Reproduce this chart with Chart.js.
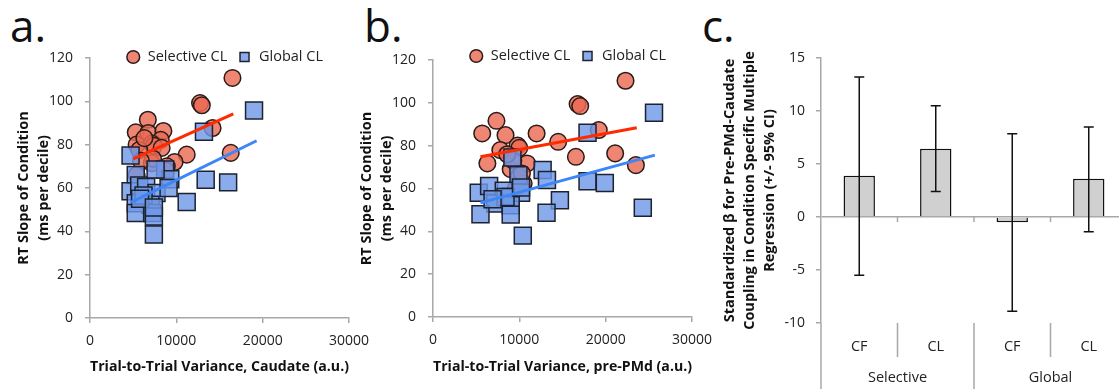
<!DOCTYPE html>
<html>
<head>
<meta charset="utf-8">
<script src="https://cdn.jsdelivr.net/npm/chart.js@4.4.1/dist/chart.umd.min.js"></script>
<style>
  body { margin: 0; width: 1119px; height: 389px; overflow: hidden; background: #fff; position: relative; font-family: 'Open Sans', sans-serif; }
  canvas { position: absolute; top: 0; }
  .letter { position: absolute; top: 3px; font-size: 44px; line-height: 44px; color: #111; }
</style>
</head>
<body>
<div class="letter" style="left:10px">a.</div>
<div class="letter" style="left:364px">b.</div>
<div class="letter" style="left:702px">c.</div>
<canvas id="chartA" width="380" height="389" style="left:0"></canvas>
<canvas id="chartB" width="380" height="389" style="left:343px"></canvas>
<canvas id="chartC" width="440" height="389" style="left:700px"></canvas>
<script>
// panel a: caudate variance vs RT slope
var selA_x = [16500, 12750, 12950, 6700, 5300, 6750, 8500, 14200, 8200, 5400, 7150, 7400, 5700, 8300, 6300, 11200, 16300, 9800, 7150, 7300, 8900, 5900, 5400, 8800];
var selA_y = [110.8, 99.2, 98.2, 91.5, 85.7, 85.4, 86.3, 87.7, 82.2, 80, 80.5, 79.5, 77.5, 78.5, 83, 75.4, 76.2, 72, 71.5, 73.5, 70, 72.5, 66, 68];
var globA_x = [19000, 13200, 4700, 5300, 8700, 9300, 13400, 16000, 4700, 5700, 6500, 7700, 9100, 11200, 7000, 5300, 5300, 7200, 7400, 7400, 7600, 6200, 5800, 7400];
var globA_y = [95.8, 86, 75, 66, 68.5, 64, 63.8, 62.6, 58.5, 61.2, 60.5, 57.7, 60, 53.5, 52.3, 53, 48.5, 48.5, 46.8, 38.5, 68.5, 56.5, 55, 51];
var fitSelA_x = [5000, 16600];
var fitSelA_y = [73.4, 94.2];
var fitGlobA_x = [4750, 19300];
var fitGlobA_y = [53.4, 81.8];

// panel b: pre-PMd variance vs RT slope
var selB_x = [22300, 16750, 17050, 7350, 5700, 8400, 12000, 14500, 19200, 7800, 9800, 10000, 16550, 21100, 6300, 10900, 23500, 9000, 9950, 10500, 9300, 8600, 10300, 9600];
var selB_y = [110.3, 99.4, 98.5, 91.6, 85.7, 84.9, 85.7, 81.8, 87.3, 77.9, 80, 79, 74.8, 76.4, 71.7, 71.7, 70.9, 69, 65.5, 62.3, 73, 76, 67, 60];
var globB_x = [25600, 17900, 9200, 9900, 12700, 13200, 17900, 19900, 5300, 6500, 8200, 9000, 10200, 7200, 9000, 14700, 5500, 9000, 13150, 24300, 10400, 8400, 10200, 6900];
var globB_y = [95.4, 86, 74.5, 66.2, 68.6, 64, 63.4, 62.6, 58, 61.2, 59, 56, 58, 53, 52.2, 54.5, 48, 47.8, 48.7, 51, 38, 56, 60.5, 55];
var fitSelB_x = [5500, 23600];
var fitSelB_y = [74.8, 88.4];
var fitGlobB_x = [5500, 25700];
var fitGlobB_y = [53.3, 75.6];

// panel c: standardized beta with 95% CI
var cats = ['CF', 'CL', 'CF', 'CL'];
var groups = ['Selective', 'Global'];
var beta = [3.9, 6.45, -0.5, 3.6];
var ciLow = [-5.5, 2.4, -8.9, -1.4];
var ciHigh = [13.2, 10.5, 7.85, 8.5];

var axisGray = '#a8a8a8';
var textCol = '#222';
Chart.defaults.font.family = "'Open Sans', sans-serif";
Chart.defaults.color = textCol;

function pts(xs, ys) {
  return xs.map(function (x, i) { return { x: x, y: ys[i] }; });
}

// legend box is laid out above the plot, then moved down onto the top tick
var moveLegend = {
  id: 'moveLegend',
  afterLayout: function (chart, args, opts) {
    var l = chart.legend;
    if (!l) return;
    var dy = opts.y - (l.top + 10 + 14.5 / 2);
    l.top += dy; l.bottom += dy;
    l.left += opts.dx; l.right += opts.dx;
  }
};

function makeScatter(id, sx, sy, gx, gy, fsx, fsy, fgx, fgy, xTitle, top, bottom, legendY) {
  return new Chart(id, {
    type: 'scatter',
    data: {
      datasets: [
        { label: 'Selective CL', data: pts(sx, sy), pointStyle: 'circle', pointRadius: 8.3, pointHoverRadius: 8.3,
          backgroundColor: 'rgba(236,106,84,0.82)', borderColor: '#2b1b17', borderWidth: 1.5, order: 3 },
        { label: 'Global CL', data: pts(gx, gy), pointStyle: 'rect', pointRadius: 12, pointHoverRadius: 12,
          backgroundColor: 'rgba(112,152,232,0.82)', borderColor: '#1d2230', borderWidth: 1.5, order: 2 },
        { label: 'fitSel', data: pts(fsx, fsy), showLine: true, pointRadius: 0, borderColor: '#ff2a00', borderWidth: 3, order: 1 },
        { label: 'fitGlob', data: pts(fgx, fgy), showLine: true, pointRadius: 0, borderColor: '#3d86f7', borderWidth: 3, order: 0 }
      ]
    },
    options: {
      responsive: false,
      animation: false,
      layout: { padding: { top: top - 34.5, right: 31, left: 0, bottom: 0 } },
      plugins: {
        legend: {
          position: 'top',
          fullSize: false,
          labels: {
            usePointStyle: true, boxHeight: 9, padding: 10,
            font: { size: 14.5 }, color: textCol,
            filter: function (item) { return item.datasetIndex < 2; },
            sort: function (a, b) { return a.datasetIndex - b.datasetIndex; }
          }
        },
        tooltip: { enabled: false },
        moveLegend: { y: legendY, dx: 5 }
      },
      scales: {
        x: {
          type: 'linear', min: 0, max: 30000,
          ticks: { stepSize: 10000, padding: 10, maxRotation: 0, font: { size: 14 }, color: textCol,
                   callback: function (v) { return String(v); } },
          grid: { drawOnChartArea: false, tickLength: 5, color: axisGray, lineWidth: 1.5 },
          border: { color: axisGray, width: 1.5 },
          title: { display: true, text: xTitle, color: '#111', font: { size: 14.5, weight: 'bold' }, padding: { top: 0, bottom: 13 } },
          afterFit: function (s) { s.height = 389 - bottom; }
        },
        y: {
          min: 0, max: 120,
          ticks: { stepSize: 20, padding: 12, font: { size: 14 }, color: textCol,
                   callback: function (v) { return String(v); } },
          grid: { drawOnChartArea: false, tickLength: 5, color: axisGray, lineWidth: 1.5 },
          border: { color: axisGray, width: 1.5 },
          title: { display: true, text: ['RT Slope of Condition', '(ms per decile)'], color: '#111',
                   font: { size: 14.5, weight: 'bold', lineHeight: 20 / 14.5 }, padding: { top: 14, bottom: 0 } },
          afterFit: function (s) { s.width = 90; }
        }
      }
    },
    plugins: [moveLegend]
  });
}

makeScatter('chartA', selA_x, selA_y, globA_x, globA_y, fitSelA_x, fitSelA_y, fitGlobA_x, fitGlobA_y,
  'Trial-to-Trial Variance, Caudate (a.u.)', 58, 318, 57);
makeScatter('chartB', selB_x, selB_y, globB_x, globB_y, fitSelB_x, fitSelB_y, fitGlobB_x, fitGlobB_y,
  'Trial-to-Trial Variance, pre-PMd (a.u.)', 60, 317, 56);

// error bars, category separators and group names for panel c
var ciBars = {
  id: 'ciBars',
  afterDatasetsDraw: function (chart) {
    var ctx = chart.ctx, x = chart.scales.x, y = chart.scales.y, area = chart.chartArea;
    ctx.save();
    ctx.strokeStyle = '#111';
    ctx.lineWidth = 1.5;
    ciLow.forEach(function (lo, i) {
      var px = x.getPixelForValue(i);
      var yl = y.getPixelForValue(lo), yh = y.getPixelForValue(ciHigh[i]);
      ctx.beginPath();
      ctx.moveTo(px, yl); ctx.lineTo(px, yh);
      ctx.moveTo(px - 5, yl); ctx.lineTo(px + 5, yl);
      ctx.moveTo(px - 5, yh); ctx.lineTo(px + 5, yh);
      ctx.stroke();
    });
    ctx.strokeStyle = axisGray;
    var y0 = y.getPixelForValue(0);
    for (var k = 0; k <= cats.length; k++) {
      var bx = x.getPixelForValue(k - 0.5);
      ctx.beginPath();
      if (k > 0) { ctx.moveTo(bx, y0); ctx.lineTo(bx, y0 + 5); }
      ctx.moveTo(bx, area.bottom);
      ctx.lineTo(bx, k % 2 === 0 ? chart.height : area.bottom + 34);
      ctx.stroke();
    }
    ctx.fillStyle = textCol;
    ctx.font = "14.5px 'Open Sans', sans-serif";
    ctx.textAlign = 'center';
    ctx.textBaseline = 'middle';
    groups.forEach(function (g, j) {
      var gx = (x.getPixelForValue(2 * j) + x.getPixelForValue(2 * j + 1)) / 2;
      ctx.fillText(g, gx, area.bottom + 55);
    });
    ctx.restore();
  }
};

new Chart('chartC', {
  type: 'bar',
  data: {
    labels: cats,
    datasets: [{
      data: beta,
      backgroundColor: '#d0d0d0',
      borderColor: '#111',
      borderWidth: 1.5,
      barPercentage: 0.41,
      categoryPercentage: 1
    }]
  },
  options: {
    responsive: false,
    animation: false,
    layout: { padding: { top: 58, right: 13, left: 0, bottom: 0 } },
    plugins: { legend: { display: false }, tooltip: { enabled: false } },
    scales: {
      x: {
        ticks: { padding: 15, font: { size: 14.5 }, color: textCol },
        grid: { display: false, drawTicks: false },
        border: { display: false },
        afterFit: function (s) { s.height = 66; }
      },
      y: {
        min: -10, max: 15,
        ticks: { stepSize: 5, padding: 11, font: { size: 14 }, color: textCol,
                 callback: function (v) { return String(v); } },
        grid: {
          color: function (c) { return c.tick && c.tick.value === 0 ? axisGray : 'rgba(0,0,0,0)'; },
          tickColor: axisGray, lineWidth: 1.5, tickLength: 5
        },
        border: { color: axisGray, width: 1.5 },
        title: {
          display: true,
          text: ['Standardized \u03b2 for Pre-PMd-Caudate', 'Coupling in Condition Specific Multiple', 'Regression (+/- 95% CI)'],
          color: '#111', font: { size: 14.5, weight: 'bold', lineHeight: 20 / 14.5 }, padding: { top: 20, bottom: 0 }
        },
        afterFit: function (s) { s.width = 121; }
      }
    }
  },
  plugins: [ciBars]
});
</script>
</body>
</html>
